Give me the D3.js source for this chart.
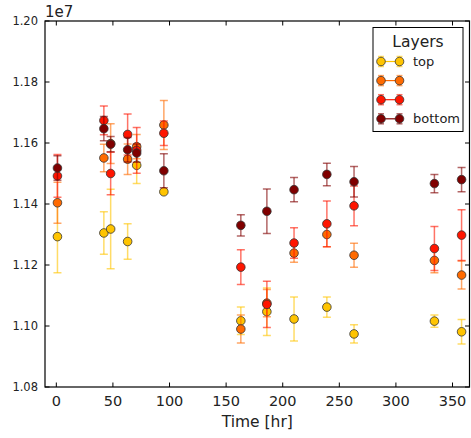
<!DOCTYPE html>
<html>
<head>
<meta charset="utf-8">
<script src="https://cdn.jsdelivr.net/npm/d3@7"></script>
<style>
  body { margin: 0; background: #fff; }
  svg { font-family: "DejaVu Sans", sans-serif; }
</style>
</head>
<body>
<div id="chart"></div>
<script>
// data (values in units of 1e7)
const times = [1, 42, 48, 63, 71, 95, 163, 186, 210, 239, 263, 334, 358];

const topVals = [1.1293, 1.1305, 1.1318, 1.1277, 1.1527, 1.1440, 1.1017, 1.1047, 1.1023, 1.1062, 1.0974, 1.1016, 1.0981];
const topErr = [0.0118, 0.0070, 0.0130, 0.0058, 0.0060, 0.0004, 0.0045, 0.0078, 0.0072, 0.0033, 0.0030, 0.0020, 0.0040];

const orangeVals = [1.1404, 1.1551, 1.1598, 1.1547, 1.1588, 1.1659, 1.0990, 1.1075, 1.1239, 1.1300, 1.1232, 1.1215, 1.1167];
const orangeErr = [0.0067, 0.0045, 0.0065, 0.0050, 0.0040, 0.0080, 0.0046, 0.0045, 0.0030, 0.0040, 0.0039, 0.0040, 0.0046];

const redVals = [1.1492, 1.1674, 1.1500, 1.1628, 1.1576, 1.1632, 1.1193, 1.1071, 1.1272, 1.1335, 1.1394, 1.1254, 1.1298];
const redErr = [0.0070, 0.0047, 0.0070, 0.0067, 0.0075, 0.0040, 0.0057, 0.0076, 0.0050, 0.0075, 0.0065, 0.0072, 0.0083];

const bottomVals = [1.1518, 1.1647, 1.1596, 1.1578, 1.1567, 1.1509, 1.1330, 1.1376, 1.1447, 1.1497, 1.1473, 1.1467, 1.1480];
const bottomErr = [0.0040, 0.0040, 0.0025, 0.0040, 0.0030, 0.0056, 0.0035, 0.0073, 0.0040, 0.0037, 0.0050, 0.0030, 0.0040];

const layerNames = ["top", "", "", "bottom"];
const layerColors = ["#ffc400", "#ff6a00", "#ff1500", "#800000"];

const xTicks = [0, 50, 100, 150, 200, 250, 300, 350];
const yTicks = [1.08, 1.10, 1.12, 1.14, 1.16, 1.18, 1.20];

const layers = [
  { vals: topVals, err: topErr },
  { vals: orangeVals, err: orangeErr },
  { vals: redVals, err: redErr },
  { vals: bottomVals, err: bottomErr }
];

const width = 471, height = 438;
const margin = { top: 21, right: 1.5, bottom: 51, left: 45 };
const plotW = width - margin.left - margin.right;
const plotH = height - margin.top - margin.bottom;

const svg = d3.select("#chart").append("svg")
  .attr("width", width)
  .attr("height", height);

const x = d3.scaleLinear().domain([-10, 365]).range([margin.left, margin.left + plotW]);
const y = d3.scaleLinear().domain([1.08, 1.20]).range([margin.top + plotH, margin.top]);

// clip so bars stay inside the axes
svg.append("clipPath").attr("id", "clip")
  .append("rect")
  .attr("x", margin.left).attr("y", margin.top)
  .attr("width", plotW).attr("height", plotH);

const plot = svg.append("g").attr("clip-path", "url(#clip)");

const capW = 4;

layers.forEach((layer, i) => {
  const color = layerColors[i];
  const g = plot.append("g");
  const pts = times.map((t, j) => ({ t: t, v: layer.vals[j], e: layer.err[j] }));

  const bars = g.selectAll(".eb").data(pts).enter().append("g")
    .attr("stroke", color)
    .attr("stroke-opacity", 0.6)
    .attr("stroke-width", 1.5);
  bars.append("line")
    .attr("x1", d => x(d.t)).attr("x2", d => x(d.t))
    .attr("y1", d => y(d.v - d.e)).attr("y2", d => y(d.v + d.e));
  bars.append("line")
    .attr("x1", d => x(d.t) - capW).attr("x2", d => x(d.t) + capW)
    .attr("y1", d => y(d.v + d.e)).attr("y2", d => y(d.v + d.e));
  bars.append("line")
    .attr("x1", d => x(d.t) - capW).attr("x2", d => x(d.t) + capW)
    .attr("y1", d => y(d.v - d.e)).attr("y2", d => y(d.v - d.e));

  g.selectAll("circle").data(pts).enter().append("circle")
    .attr("cx", d => x(d.t))
    .attr("cy", d => y(d.v))
    .attr("r", 4.3)
    .attr("fill", color)
    .attr("stroke", "#333")
    .attr("stroke-width", 0.8);
});

// axes frame
svg.append("rect")
  .attr("x", margin.left).attr("y", margin.top)
  .attr("width", plotW).attr("height", plotH)
  .attr("fill", "none").attr("stroke", "#000").attr("stroke-width", 1.2);

const tickLen = 4.5;

// x ticks (bottom and top, inward)
const xAxis = svg.append("g");
xTicks.forEach(t => {
  xAxis.append("line")
    .attr("x1", x(t)).attr("x2", x(t))
    .attr("y1", margin.top + plotH).attr("y2", margin.top + plotH - tickLen)
    .attr("stroke", "#000");
  xAxis.append("line")
    .attr("x1", x(t)).attr("x2", x(t))
    .attr("y1", margin.top).attr("y2", margin.top + tickLen)
    .attr("stroke", "#000");
  xAxis.append("text")
    .attr("x", x(t)).attr("y", margin.top + plotH + 19)
    .attr("text-anchor", "middle")
    .attr("font-size", 14.5)
    .attr("fill", "#222")
    .text(t);
});

// y ticks (left and right, inward)
const yAxis = svg.append("g");
yTicks.forEach(v => {
  yAxis.append("line")
    .attr("x1", margin.left).attr("x2", margin.left + tickLen)
    .attr("y1", y(v)).attr("y2", y(v))
    .attr("stroke", "#000");
  yAxis.append("line")
    .attr("x1", margin.left + plotW).attr("x2", margin.left + plotW - tickLen)
    .attr("y1", y(v)).attr("y2", y(v))
    .attr("stroke", "#000");
  yAxis.append("text")
    .attr("x", margin.left - 7).attr("y", y(v))
    .attr("dy", "0.36em")
    .attr("text-anchor", "end")
    .attr("font-size", 11.5)
    .attr("fill", "#222")
    .text(d3.format(".2f")(v));
});

// offset text
svg.append("text")
  .attr("x", margin.left).attr("y", 17)
  .attr("font-size", 15)
  .attr("fill", "#222")
  .text("1e7");

// x label
svg.append("text")
  .attr("x", margin.left + plotW / 2).attr("y", 427)
  .attr("text-anchor", "middle")
  .attr("font-size", 15.5)
  .attr("fill", "#222")
  .text("Time [hr]");

// legend
const lg = svg.append("g").attr("transform", "translate(373,27.5)");
lg.append("rect")
  .attr("width", 90).attr("height", 104)
  .attr("fill", "#fff").attr("stroke", "#000").attr("stroke-width", 1);
lg.append("text")
  .attr("x", 45).attr("y", 19)
  .attr("text-anchor", "middle")
  .attr("font-size", 15.5)
  .attr("fill", "#222")
  .text("Layers");

layerColors.forEach((c, i) => {
  const cy = 34 + i * 19.1;
  const e = lg.append("g");
  [8, 26.5].forEach(cx => {
    e.append("line")
      .attr("x1", cx).attr("x2", cx).attr("y1", cy - 5).attr("y2", cy + 5)
      .attr("stroke", c).attr("stroke-opacity", 0.6).attr("stroke-width", 1.5);
    e.append("line")
      .attr("x1", cx - 3).attr("x2", cx + 3).attr("y1", cy - 5).attr("y2", cy - 5)
      .attr("stroke", c).attr("stroke-opacity", 0.6).attr("stroke-width", 1.5);
    e.append("line")
      .attr("x1", cx - 3).attr("x2", cx + 3).attr("y1", cy + 5).attr("y2", cy + 5)
      .attr("stroke", c).attr("stroke-opacity", 0.6).attr("stroke-width", 1.5);
  });
  e.append("line")
    .attr("x1", 8).attr("x2", 26.5).attr("y1", cy).attr("y2", cy)
    .attr("stroke", c).attr("stroke-width", 1.2);
  [8, 26.5].forEach(cx => {
    e.append("circle")
      .attr("cx", cx).attr("cy", cy).attr("r", 4.3)
      .attr("fill", c).attr("stroke", "#333").attr("stroke-width", 0.8);
  });
  e.append("text")
    .attr("x", 40).attr("y", cy)
    .attr("dy", "0.35em")
    .attr("font-size", 13)
    .attr("fill", "#222")
    .text(layerNames[i]);
});
</script>
</body>
</html>
